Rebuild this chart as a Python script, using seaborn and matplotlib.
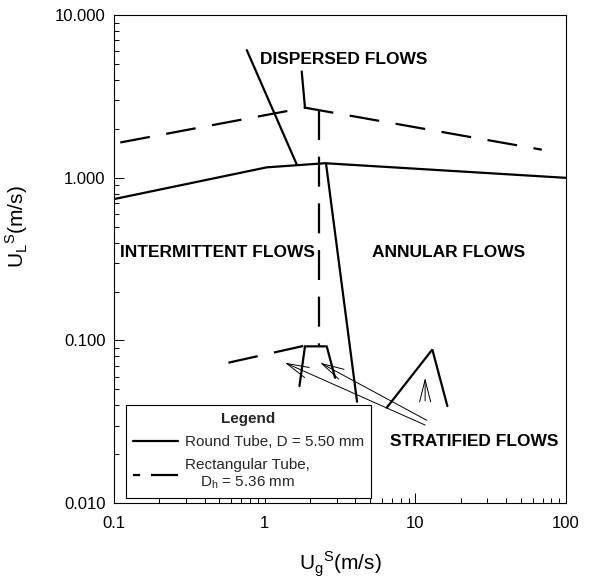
import numpy as np
import pandas as pd
import matplotlib
matplotlib.use("Agg")
import matplotlib.pyplot as plt
from matplotlib.lines import Line2D
import seaborn as sns

# ---- data ----
round_main_x = [0.1, 1.03, 2.51, 100.0]
round_main_y = [0.74, 1.16, 1.23, 1.0]
round_disp_x = [0.76, 1.63]
round_disp_y = [6.1, 1.21]
round_ann_x = [2.55, 4.1]
round_ann_y = [1.23, 0.042]
round_strat_x = [6.45, 12.95, 16.3]
round_strat_y = [0.0386, 0.088, 0.0395]

rect_main_x = [0.11, 1.85, 69.0]
rect_main_y = [1.65, 2.70, 1.49]
rect_disp_x = [1.76, 1.85]
rect_disp_y = [4.5, 2.70]
rect_ann_x = [2.30, 2.30]
rect_ann_y = [2.61, 0.092]
rect_int_x = [0.574, 1.85]
rect_int_y = [0.073, 0.093]
rect_strat_x = [1.70, 1.85, 2.58, 2.93]
rect_strat_y = [0.0525, 0.092, 0.092, 0.059]

arrow_tail_x = [11.6, 11.9, 11.6]
arrow_tail_y = [0.0302, 0.0323, 0.0425]
arrow_head_x = [1.36, 2.33, 11.6]
arrow_head_y = [0.073, 0.073, 0.059]

x_ticks = [0.1, 1, 10, 100]
x_ticklabels = ["0.1", "1", "10", "100"]
y_ticks = [0.01, 0.1, 1, 10]
y_ticklabels = ["0.010", "0.100", "1.000", "10.000"]

regions = ["DISPERSED FLOWS", "INTERMITTENT FLOWS", "ANNULAR FLOWS", "STRATIFIED FLOWS"]
legend_labels = ["Round Tube, D = 5.50 mm", "Rectangular Tube,\nD$_\\mathregular{h}$ = 5.36 mm"]

# ---- styling ----
sns.set_theme(style="ticks")
plt.rcParams["font.family"] = ["Liberation Sans", "DejaVu Sans"]
plt.rcParams["mathtext.fontset"] = "custom"
plt.rcParams["mathtext.rm"] = "Liberation Sans"

fig = plt.figure(figsize=(5.94, 5.85), dpi=100)
ax = fig.add_axes([0.192, 0.140, 0.761, 0.834])

LW = 1.6
DASH = (13.5, 7.5)

def seg(xs, ys, dashed=False):
    df = pd.DataFrame({"x": xs, "y": ys})
    sns.lineplot(data=df, x="x", y="y", sort=False, estimator=None,
                 color="black", lw=LW, ax=ax)
    ln = ax.get_lines()[-1]
    if dashed:
        ln.set_dashes(DASH)
    ln.set_solid_joinstyle("miter")

seg(round_main_x, round_main_y)
seg(round_disp_x, round_disp_y)
seg(round_ann_x, round_ann_y)
seg(round_strat_x, round_strat_y)

seg(rect_main_x, rect_main_y, dashed=True)
seg(rect_disp_x, rect_disp_y)
seg(rect_ann_x, rect_ann_y, dashed=True)
seg(rect_int_x, rect_int_y, dashed=True)
seg(rect_strat_x, rect_strat_y)

for tx, ty, hx, hy in zip(arrow_tail_x, arrow_tail_y, arrow_head_x, arrow_head_y):
    ax.annotate("", xy=(hx, hy), xytext=(tx, ty),
                arrowprops=dict(arrowstyle="->,head_length=0.8,head_width=0.2",
                                lw=0.7, color="black", mutation_scale=20,
                                shrinkA=0, shrinkB=0))

ax.set_xscale("log")
ax.set_yscale("log")
ax.set_xlim(0.1, 100)
ax.set_ylim(0.01, 10)
ax.set_xticks(x_ticks)
ax.set_xticklabels(x_ticklabels)
ax.set_yticks(y_ticks)
ax.set_yticklabels(y_ticklabels)
ax.xaxis.set_minor_locator(matplotlib.ticker.LogLocator(base=10, subs=np.arange(2, 10)))
ax.yaxis.set_minor_locator(matplotlib.ticker.LogLocator(base=10, subs=np.arange(2, 10)))
ax.xaxis.set_minor_formatter(matplotlib.ticker.NullFormatter())
ax.yaxis.set_minor_formatter(matplotlib.ticker.NullFormatter())
ax.tick_params(which="both", direction="in", top=False, right=False, width=0.7, color="black")
ax.tick_params(which="major", length=7, labelsize=12, labelcolor="black")
ax.tick_params(which="minor", length=3.8)
ax.tick_params(axis="x", which="major", pad=9)
ax.tick_params(axis="y", which="major", pad=6)
for s in ax.spines.values():
    s.set_visible(True)
    s.set_linewidth(0.8)
    s.set_color("black")

ax.set_xlabel("U$_\\mathregular{g}$$^\\mathregular{S}$(m/s)", fontsize=15, color="black")
ax.set_ylabel("U$_\\mathregular{L}$$^\\mathregular{S}$(m/s)", fontsize=15, color="black")
ax.xaxis.set_label_coords(0.5, -0.095)
ax.yaxis.set_label_coords(-0.185, 0.566)

tkw = dict(transform=ax.transAxes, fontsize=12.5, fontweight="bold", color="black", va="center")
ax.text(0.509, 0.91, regions[0], ha="center", **tkw)
ax.text(0.014, 0.513, regions[1], ha="left", **tkw)
ax.text(0.739, 0.513, regions[2], ha="center", **tkw)
ax.text(0.797, 0.126, regions[3], ha="center", **tkw)

handles = [Line2D([], [], color="black", lw=LW),
           Line2D([], [], color="black", lw=LW, dashes=(3.2, 4.9, 12.2, 0))]
leg = ax.legend(handles, legend_labels, title="Legend", loc="lower left",
                bbox_to_anchor=(0.0265, 0.01), frameon=True, fancybox=False,
                edgecolor="black", framealpha=1, fontsize=11, title_fontsize=11,
                handlelength=2.95, handletextpad=0.45, borderpad=0.45, labelspacing=0.6,
                borderaxespad=0)
leg.get_title().set_fontweight("bold")
leg.get_frame().set_linewidth(0.8)
for t in leg.get_texts():
    t.set_multialignment("center")

fig.savefig("out.png", dpi=100)
